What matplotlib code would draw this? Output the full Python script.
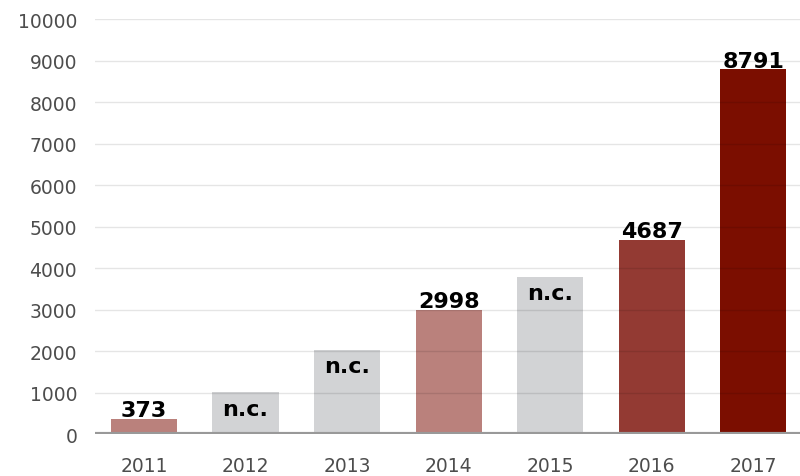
import matplotlib.pyplot as plt

years = ["2011", "2012", "2013", "2014", "2015", "2016", "2017"]
values = [373, 1010, 2030, 2998, 3790, 4687, 8791]
labels = ["373", "n.c.", "n.c.", "2998", "n.c.", "4687", "8791"]
colors = ["#ba817c", "#d2d3d5", "#d2d3d5", "#ba817c", "#d2d3d5", "#933a33", "#7b0e00"]

plt.rcParams['font.family'] = ['DejaVu Sans']

fig = plt.figure(figsize=(8, 4.77), dpi=100)
ax = fig.add_axes([0.119, 0.088, 0.881, 0.870])

x = list(range(len(years)))
ax.bar(x, values, width=0.65, color=colors, zorder=2)

for i, (v, lab) in enumerate(zip(values, labels)):
    if lab == "n.c.":
        ax.text(i, v - 160, lab, ha="center", va="top", fontsize=16,
                fontweight="heavy", color="black", zorder=4)
    else:
        ax.text(i, v + 60, lab, ha="center", va="baseline", fontsize=16,
                fontweight="heavy", color="black", zorder=4)

ax.set_xlim(-0.48, 6.46)
ax.set_ylim(0, 10000)
ax.set_yticks(range(0, 10001, 1000))
ax.set_xticks(x)
ax.set_xticklabels(years)
ax.yaxis.grid(True, color="black", alpha=0.1, linewidth=1, zorder=3)
ax.set_axisbelow(False)
ax.axhline(0, color="#999999", linewidth=3, zorder=5)

for s in ax.spines.values():
    s.set_visible(False)
ax.tick_params(length=0, labelsize=13.5, labelcolor="#4d4d4d")
ax.tick_params(axis="y", pad=13)
ax.tick_params(axis="x", pad=16)

fig.savefig("out.png", dpi=100)
